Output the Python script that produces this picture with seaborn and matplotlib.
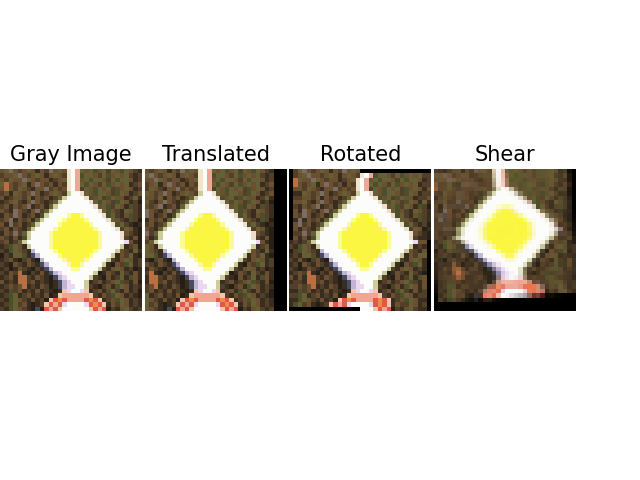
import numpy as np
import matplotlib
matplotlib.use("Agg")
import matplotlib.pyplot as plt
import seaborn as sns

# 32x32 sign image, one character per pixel (see pixel_colours)
sign_rows = [
    "bogbmbobdbmgbob" + "cWs" + "obovbomobvobmd",
    "mbbogbmbobdbobm" + "cWs" + "voobmovbobomdm",
    "bmobbgobmbbdmbo" + "cWs" + "bovoobmovoobdm",
    "orbmbodbgbmbdbm" + "cWs" + "ovobmovbobodmb",
    "brbmobmdbbgmbmb" + "cWs" + "mobvobomvbobdm",
    "mbdobmbgbdmbobm" + "e" + "W" * 2 + "f" + "obvoobmvobdmb",
    "bdmbbmodbmbdmo" + "e" + "W" * 4 + "f" + "vbomvobbdmod",
    "dmbomdbgbmdmo" + "e" + "W" * 6 + "f" + "ovobmvobdmx",
    "mbdbmbgdmbdo" + "e" + "W" * 8 + "f" + "bovmobdvmd",
    "bmdgbmdbgmo" + "e" + "W" * 10 + "f" + "ovbmdobmd",
    "dbmgbdmbdv" + "e" + "W" * 4 + "y" + "Y" * 2 + "y" + "W" * 4 + "f" + "vomdbvmd",
    "mbgdbmbdo" + "e" + "W" * 4 + "y" + "Y" * 4 + "y" + "W" * 4 + "f" + "obmdvmx",
    "bdgmbdmo" + "e" + "W" * 4 + "y" + "Y" * 6 + "y" + "W" * 4 + "f" + "vomdxd",
    "mbdbmdo" + "e" + "W" * 4 + "y" + "Y" * 8 + "y" + "W" * 4 + "f" + "mobdx",
    "dbmgmo" + "e" + "W" * 4 + "y" + "Y" * 10 + "y" + "W" * 4 + "f" + "bmdx",
    "bmdbdv" + "e" + "W" * 4 + "y" + "Y" * 10 + "y" + "W" * 4 + "f" + "mdbx",
    "mbdmo" + "e" + "W" * 5 + "y" + "Y" * 10 + "y" + "W" * 5 + "p" + "bdx",
    "dmvobd" + "e" + "W" * 4 + "y" + "Y" * 10 + "y" + "W" * 4 + "e" + "dmbx",
    "mdvobmd" + "l" + "W" * 4 + "y" + "Y" * 8 + "y" + "W" * 4 + "e" + "bmdod",
    "xmdoovdn" + "l" + "W" * 4 + "y" + "Y" * 6 + "y" + "W" * 4 + "e" + "dbmodx",
    "dmbdxmbdx" + "l" + "W" * 4 + "y" + "Y" * 4 + "y" + "W" * 4 + "e" + "mdbobdm",
    "mdxbmdbmdn" + "l" + "W" * 4 + "y" + "Y" * 2 + "y" + "W" * 4 + "e" + "dxbmvodm",
    "dmxdbmdxmdn" + "l" + "W" * 4 + "y" * 2 + "W" * 4 + "e" + "mdbobdmxd",
    "mdbmrdxmdbdn" + "l" + "p" + "W" * 7 + "e" + "xdbmdomdbd",
    "dmbdrrmdbmdxn" + "l" + "p" + "W" * 5 + "e" + "mdxbdmodvbd",
    "bdmdrrmbdmdxdn" + "l" + "p" + "W" * 3 + "e" + "dmbdmbovmdbx",
    "dmbmbrdmdbmxdn" + "l" + "p" * 2 + "W" * 2 + "e" + "mdxmbdvobdmd",
    "mdvmbdmdbdmdxd" + "qpWWpq" + "dmbdvomdbdmx",
    "dmvodmbdmdbxd" + "q" + "s" * 6 + "q" + "mdbmvobdmdx",
    "mdvobmdbdmx" + "qROR" + "s" * 4 + "RORq" + "dmbvobdmd",
    "dmvombdxdm" + "qRsRp" + "W" * 4 + "pRORq" + "dbmobdmd",
    "mdvobmdxnx" + "RsRq" + "W" * 6 + "qRsR" + "xmdbomdm",
]

pixel_colours = {
    "x": (38, 31, 22), "d": (56, 45, 30), "m": (82, 63, 41),
    "b": (106, 79, 48), "o": (102, 94, 52), "v": (76, 80, 42),
    "g": (124, 108, 98), "r": (182, 112, 68), "n": (72, 76, 96),
    "W": (252, 252, 250), "Y": (250, 246, 66), "y": (250, 250, 150),
    "e": (205, 205, 155), "f": (238, 222, 205), "p": (236, 214, 240),
    "l": (190, 180, 212), "c": (242, 228, 200), "s": (236, 168, 148),
    "R": (226, 88, 68), "O": (236, 140, 74), "q": (242, 198, 172),
}

titles = ["Gray Image", "Translated", "Rotated", "Shear"]
shift_px = [-3, 0]
rotation_deg = 2.0
shear_matrix = [[0.995, 0.09, -1.8], [-0.07, 0.92, 0.5]]


def warp(img, M, bilinear=False):
    h, w = img.shape[:2]
    ys, xs = np.mgrid[0:h, 0:w].astype(float)
    inv = np.linalg.inv(np.vstack([np.asarray(M, float), [0, 0, 1]]))
    sx = inv[0, 0] * xs + inv[0, 1] * ys + inv[0, 2]
    sy = inv[1, 0] * xs + inv[1, 1] * ys + inv[1, 2]
    if not bilinear:
        eps = 1e-6
        ok = (sx >= -eps) & (sx <= w - 1 + eps) & (sy >= -eps) & (sy <= h - 1 + eps)
        xi = np.clip(np.rint(sx), 0, w - 1).astype(int)
        yi = np.clip(np.rint(sy), 0, h - 1).astype(int)
        return img[yi, xi] * ok[..., None]
    pad = np.pad(img, ((1, 1), (1, 1), (0, 0)))
    px, py = sx + 1, sy + 1
    ok = (px >= 0) & (px <= w + 1) & (py >= 0) & (py <= h + 1)
    px = np.clip(px, 0, w + 1)
    py = np.clip(py, 0, h + 1)
    x0 = np.clip(np.floor(px).astype(int), 0, w)
    y0 = np.clip(np.floor(py).astype(int), 0, h)
    fx = (px - x0)[..., None]
    fy = (py - y0)[..., None]
    out = (pad[y0, x0] * (1 - fx) * (1 - fy) + pad[y0, x0 + 1] * fx * (1 - fy)
           + pad[y0 + 1, x0] * (1 - fx) * fy + pad[y0 + 1, x0 + 1] * fx * fy)
    return out * ok[..., None]


img = np.array([[pixel_colours[ch] for ch in row[:32].ljust(32, "d")] for row in sign_rows],
               float) / 255.0

cx = cy = (img.shape[1] - 1) / 2
t = np.deg2rad(rotation_deg)
c, s = np.cos(t), np.sin(t)
rot_matrix = [[c, -s, cx - c * cx + s * cy], [s, c, cy - s * cx - c * cy]]

images = [
    img,
    warp(img, [[1, 0, shift_px[0]], [0, 1, shift_px[1]]]),
    warp(img, rot_matrix),
    warp(img, shear_matrix, bilinear=True),
]

sns.set_style("white")
plt.rcParams["text.color"] = "black"
fig, axes = plt.subplots(1, 4, figsize=(6.4, 4.8), dpi=100)
fig.subplots_adjust(left=0.0, right=0.9, bottom=0.1, top=0.9, wspace=0.02)
for ax, im, title in zip(axes, images, titles):
    ax.imshow(np.clip(im, 0, 1), interpolation="nearest")
    ax.set_title(title, fontsize=15, color="black")
    ax.axis("off")

plt.savefig("out.png", dpi=100)
